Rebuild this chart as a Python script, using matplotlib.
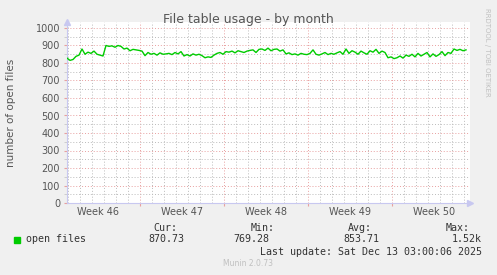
import numpy as np
import matplotlib.pyplot as plt
import matplotlib.transforms as mtransforms

open_files = [
    828, 815, 820, 838, 845, 880, 850, 862, 855, 868,
    850, 845, 840, 900, 895, 898, 890, 900, 895, 880,
    885, 870, 878, 875, 872, 868, 842, 860, 850, 855,
    845, 858, 850, 852, 855, 848, 860, 852, 865, 840,
    848, 840, 852, 845, 850, 842, 830, 835, 832, 845,
    855, 860, 850, 865, 862, 868, 858, 870, 865, 860,
    868, 872, 875, 860, 878, 880, 872, 885, 870, 878,
    880, 868, 875, 852, 858, 848, 852, 845, 855, 850,
    848, 855, 875, 850, 845, 852, 860, 848, 855, 850,
    858, 865, 850, 880, 855, 870, 862, 850, 868, 858,
    850, 870, 862, 878, 855, 868, 860, 830, 835, 825,
    830, 840, 828, 845, 838, 850, 835, 855, 840, 850,
    860, 835, 852, 838, 848, 865, 842, 860, 855, 880,
    872, 878, 870, 875,
]
week_labels = ["Week 46", "Week 47", "Week 48", "Week 49", "Week 50"]
week_starts = [6.08, 13.08, 20.08, 27.08]   # days from left edge
stats_head = ["Cur:", "Min:", "Avg:", "Max:"]
stats_vals = ["870.73", "769.28", "853.71", "1.52k"]

W, H = 497, 275
bg = "#f0f0f0"
fig = plt.figure(figsize=(W / 100, H / 100), dpi=100, facecolor=bg)
ax = fig.add_axes([67 / W, 1 - 203 / H, (470 - 67) / W, (203 - 22) / H])
ax.set_facecolor("white")

days = np.arange(len(open_files)) * 0.25
ax.plot(days, open_files, color="#00cc00", lw=1.0, zorder=3)

ax.set_xlim(0, (470 - 67) / 12)
ax.set_ylim(0, 1000 * 181 / 175)

ax.set_yticks(np.arange(0, 1001, 100))
ax.set_yticks(np.arange(50, 1000, 100), minor=True)
ax.set_xticks(week_starts)
ax.set_xticklabels([])
ax.set_xticks([d for d in np.arange(0.08, 33.5, 1) if round(d - 0.08) % 7 != 6], minor=True)

ax.grid(which="major", color="#e8a0a0", ls=(0, (1, 2)), lw=0.7)
ax.grid(which="minor", color="#bbbbbb", ls=(0, (1, 2)), lw=0.7)
ax.tick_params(axis="y", which="major", labelsize=7, labelcolor="#555555",
               length=2, color="#e8a0a0", pad=3)
ax.tick_params(axis="y", which="minor", length=2, color="#c8c8c8")
ax.tick_params(axis="x", which="major", length=2, color="#e8a0a0")
ax.tick_params(axis="x", which="minor", length=0)

for s in ["top", "right"]:
    ax.spines[s].set_visible(False)
for s in ["left", "bottom"]:
    ax.spines[s].set_color("#c8c8f0")
    ax.spines[s].set_linewidth(0.8)
ax.plot([0], [1], marker="^", color="#c8c8f0", ms=4, transform=ax.transAxes, clip_on=False)
ax.plot([1], [0], marker=">", color="#c8c8f0", ms=4, transform=ax.transAxes, clip_on=False)

trans = mtransforms.blended_transform_factory(ax.transData, ax.transAxes)
centers = [week_starts[0] - 3.5] + [w + 3.5 for w in week_starts]
for c, lab in zip(centers, week_labels):
    ax.text(c, -0.05, lab, transform=trans, ha="center", va="center",
            fontsize=7, color="#555555")

def px(x, y):
    return x / W, 1 - y / H

fig.text(*px(248, 19), "File table usage - by month", ha="center", va="center",
         fontsize=9, color="#555555")
fig.text(*px(11, 113), "number of open files", rotation=90, ha="center", va="center",
         fontsize=7.5, color="#555555")
fig.text(*px(487, 52), "RRDTOOL / TOBI OETIKER", rotation=270, ha="center", va="center",
         fontsize=5, color="#c0c0c0")

mono = dict(family="DejaVu Sans Mono", fontsize=7.2, color="#333333", va="center")
fig.patches.append(plt.Rectangle(px(14, 243), 6 / W, 6 / H, transform=fig.transFigure,
                                 color="#00cc00"))
fig.text(*px(26, 239), "open files", **mono)
head_x = [177, 275, 372, 470]
val_x = [184, 269, 379, 482]
for hx, vx, h, v in zip(head_x, val_x, stats_head, stats_vals):
    fig.text(*px(hx, 228), h, ha="right", **mono)
    fig.text(*px(vx, 239), v, ha="right", **mono)
fig.text(*px(482, 252), "Last update: Sat Dec 13 03:00:06 2025", ha="right", **mono)
fig.text(*px(248, 264), "Munin 2.0.73", ha="center", va="center", fontsize=5.5, color="#c0c0c0")

fig.savefig("out.png", dpi=100, facecolor=bg)
